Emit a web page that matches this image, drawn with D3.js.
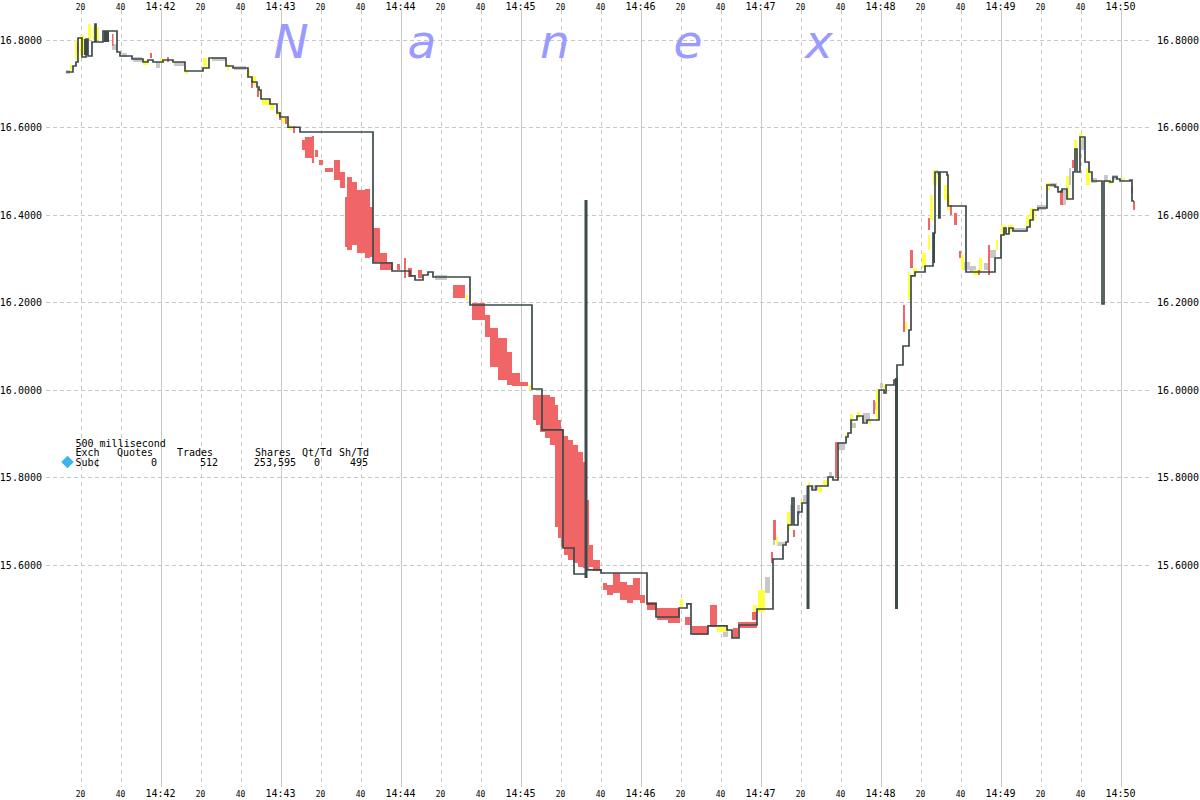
<!DOCTYPE html>
<html><head><meta charset="utf-8">
<script src="https://cdn.jsdelivr.net/npm/d3@7"></script>
<style>
html,body{margin:0;padding:0;background:#fff;}
svg{display:block;}
</style></head><body>
<svg id="chart" width="1200" height="800"></svg>
<script>
// ---- DATA (time = seconds after 14:41:00, price in $) ----
const stepTimes = [12.75,16.25,17.75,18.75,20.75,22.75,23.75,25.75,27.25,27.75,31.25,38.25,39.75,45.75,51.25,53.75,56.25,61.25,66.25,72.25,81.25,84.25,92.75,96.25,103.75,105.75,108.25,109.25,110.25,114.75,118.25,119.75,123.75,129.75,166.25,175.75,184.75,187.25,191.25,193.75,196.25,214.75,245.75,250.75,261.25,266.75,272.75,280.25,303.25,307.75,319.25,323.25,325.25,333.75,343.25,345.75,349.25,358.25,366.25,371.25,372.75,373.75,375.75,376.75,378.75,380.75,383.75,385.75,387.75,393.75,396.25,398.75,402.75,403.75,405.25,408.25,411.25,413.25,419.25,421.75,422.75,426.75,428.25,431.25,434.25,435.25,437.25,442.25,446.25,447.25,449.25,449.75,453.25,453.75,462.75,477.25,480.25,481.75,482.75,484.25,486.25,493.25,494.75,496.25,498.75,503.25,507.25,508.75,510.75,513.25,516.25,517.25,518.25,519.75,522.25,524.25,525.75,530.75,531.75,534.75,536.25,538.25,539.75,544.75,545.75,546.75];
const stepPrices = [16.7257,16.7394,16.7486,16.8034,16.7600,16.8012,16.7623,16.7943,16.8354,16.7943,16.8194,16.7714,16.7623,16.7554,16.7486,16.7531,16.7486,16.7531,16.7486,16.7280,16.7349,16.7577,16.7394,16.7349,16.7143,16.7029,16.6914,16.6846,16.6640,16.6526,16.6320,16.6229,16.5994,16.5886,16.2892,16.2709,16.2595,16.2503,16.2617,16.2686,16.2572,16.1932,16.0012,15.9075,15.6377,15.5783,15.5875,15.5806,15.5098,15.4800,15.5006,15.5098,15.4412,15.4595,15.4503,15.4320,15.4617,15.4983,15.6126,15.6446,15.6514,15.6903,15.7520,15.6903,15.7200,15.7406,15.7794,15.7703,15.7794,15.8000,15.7932,15.8777,15.8914,15.9006,15.9303,15.9394,15.9234,15.9303,15.9989,15.9920,16.0103,16.0217,16.0560,16.0994,16.1360,16.2595,16.2686,16.2823,16.3577,16.4972,16.3920,16.4972,16.4903,16.4194,16.2686,16.3006,16.3532,16.3692,16.3554,16.3692,16.3623,16.3714,16.3874,16.4103,16.4149,16.4674,16.4629,16.4515,16.4583,16.4354,16.4972,16.5497,16.4972,16.5772,16.5200,16.4972,16.4766,16.1954,16.4766,16.4743,16.4857,16.4812,16.4766,16.4789,16.4309,16.4309];

// trade clusters: [startSec, endSec, low, high]
const redTrades = [
[18.25,18.75,16.7692,16.7920],[35.75,36.25,16.7852,16.8126],[54.75,55.75,16.7577,16.7692],[63.25,64.25,16.7486,16.7600],
[105.25,106.25,16.6892,16.7074],[108.25,109.25,16.6686,16.6892],[119.25,120.25,16.6160,16.6343],[122.25,123.25,16.6069,16.6206],[126.25,127.25,16.5863,16.6023],
[130.75,132.25,16.5474,16.5703],[132.25,135.75,16.5292,16.5772],[135.75,136.75,16.5177,16.5795],[137.25,138.75,16.5314,16.5474],[139.25,141.25,16.5132,16.5246],
[142.25,146.25,16.4972,16.5063],[146.75,149.75,16.4789,16.5246],[149.75,152.25,16.4606,16.4972],[152.25,153.25,16.3257,16.4400],[153.25,155.75,16.3189,16.4857],
[155.75,158.25,16.3303,16.4743],[158.25,162.25,16.3120,16.4560],[162.25,164.75,16.3006,16.4583],[164.75,166.25,16.3029,16.4172],[166.25,169.75,16.2892,16.3692],
[169.75,173.25,16.2732,16.3120],[173.25,176.25,16.2732,16.2914],[178.25,179.75,16.2732,16.2869],[181.75,182.75,16.2549,16.3006],[183.75,185.75,16.2572,16.2777],[188.75,190.75,16.2549,16.2732],
[206.25,212.25,16.2092,16.2389],[215.75,222.25,16.1589,16.1977],[222.25,224.75,16.1200,16.1703],[224.75,228.75,16.0515,16.1406],[228.75,233.25,16.0217,16.1177],
[233.25,235.75,16.0103,16.0857],[235.75,239.75,16.0080,16.0377],[239.75,243.75,16.0080,16.0172],
[246.25,247.75,15.9303,15.9875],[247.75,249.75,15.9189,15.9875],[249.75,252.25,15.9029,15.9875],[252.25,254.75,15.8892,15.9875],[254.75,257.25,15.8732,15.9829],
[257.25,258.75,15.6857,15.9646],[258.75,260.25,15.6606,15.9303],[260.25,261.75,15.6400,15.9075],[261.75,263.75,15.6218,15.8938],[263.75,266.25,15.6103,15.8846],
[266.25,268.75,15.6035,15.8732],[268.75,271.25,15.5943,15.8572],[271.25,272.75,15.5921,15.8343],[272.75,274.25,15.5875,15.7475],[274.25,276.25,15.5943,15.6446],[276.25,279.75,15.5852,15.6103],
[281.25,283.25,15.5417,15.5577],[283.25,286.25,15.5303,15.5532],[286.25,289.75,15.5349,15.5806],[289.75,293.25,15.5189,15.5600],[293.25,296.25,15.5120,15.5532],
[296.25,299.75,15.5189,15.5692],[299.75,302.25,15.5120,15.5303],[303.25,308.25,15.4960,15.5143],[308.25,313.75,15.4732,15.5006],[313.75,319.75,15.4663,15.5006],
[322.25,324.75,15.4617,15.4800],[325.75,333.75,15.4389,15.4595],[334.75,338.25,15.4572,15.5075],[346.25,348.75,15.4320,15.4549],[348.75,358.25,15.4549,15.4686],
[355.75,358.25,15.4732,15.4915],[365.25,366.25,15.6035,15.6286],[366.25,367.75,15.6560,15.7017],[376.25,377.25,15.6629,15.6789],[397.25,398.25,15.7977,15.8800],
[416.25,417.25,15.9440,15.9760],[431.25,432.25,16.1315,16.1932],[434.75,436.25,16.2777,16.3189],[443.75,444.75,16.3646,16.3920],[454.75,455.75,16.3989,16.4217],
[456.75,458.25,16.3760,16.4035],[459.25,460.25,16.3006,16.3166],[468.75,469.75,16.2617,16.2732],[473.75,474.75,16.2617,16.3303],[481.25,481.75,16.3532,16.3623],
[509.75,511.25,16.4217,16.4560],[515.75,516.75,16.5063,16.5246],[545.25,546.25,16.4492,16.4629],[546.25,547.25,16.4103,16.4309]
];
const yellowTrades = [
[14.75,15.75,16.7303,16.7417],[17.25,18.75,16.7532,16.7989],[19.75,21.75,16.7646,16.8103],[23.75,25.25,16.7989,16.8354],[26.25,29.25,16.7989,16.8286],
[51.25,53.75,16.7417,16.7532],[59.75,61.25,16.7463,16.7577],[72.25,73.75,16.7212,16.7303],[81.25,83.25,16.7349,16.7577],[93.25,94.25,16.7303,16.7440],
[103.25,104.75,16.7120,16.7303],[105.75,107.75,16.6960,16.7166],[108.25,109.75,16.6732,16.6914],[110.75,114.75,16.6503,16.6640],[114.75,116.75,16.6389,16.6526],
[117.75,119.25,16.6252,16.6389],[120.75,123.25,16.6092,16.6229],[124.25,125.75,16.5932,16.6046],[212.75,213.75,16.2046,16.2160],[244.25,245.75,15.9989,16.0103],
[319.75,321.25,15.5029,15.5212],[338.25,343.25,15.4458,15.4572],[356.25,358.25,15.4915,15.5075],[358.75,362.25,15.4915,15.5417],[367.75,368.75,15.6446,15.6629],
[373.25,374.75,15.6789,15.7200],[379.75,381.25,15.7383,15.7452],[383.75,384.75,15.7749,15.7886],[388.75,390.75,15.7658,15.7772],[391.25,393.25,15.7795,15.7932],
[402.25,403.25,15.8823,15.8983],[404.75,406.25,15.9235,15.9440],[408.25,409.75,15.9349,15.9486],[414.25,415.25,15.9212,15.9303],[417.75,418.75,15.9303,16.0012],
[421.25,422.25,15.9989,16.0103],[432.25,433.25,16.1360,16.1543],[433.75,434.75,16.2046,16.2686],[436.25,438.25,16.2640,16.2777],[440.75,442.75,16.2777,16.3120],
[443.75,444.75,16.3189,16.3532],[444.75,446.25,16.3875,16.4446],[446.25,448.25,16.4674,16.5017],[448.75,450.25,16.4446,16.4903],[451.75,453.25,16.4332,16.4674],
[453.25,454.75,16.4103,16.4446],[460.25,461.75,16.2732,16.3075],[466.25,468.75,16.2617,16.2732],[469.25,470.75,16.2686,16.3006],[477.75,478.75,16.3189,16.3417],
[480.25,482.75,16.3532,16.3760],[483.75,486.25,16.3600,16.3760],[492.75,494.25,16.3737,16.3989],[494.75,497.25,16.3875,16.4149],[502.75,504.75,16.4560,16.4720],
[512.75,514.25,16.4332,16.4880],[516.75,518.25,16.5246,16.5703],[519.25,520.75,16.5703,16.5863],[522.75,524.75,16.4674,16.5063],[528.25,529.75,16.4743,16.4789],
[533.75,535.75,16.4697,16.4766],[540.75,542.25,16.4743,16.4835]
];
const grayTrades = [
[12.75,14.75,16.7212,16.7303],[35.75,38.25,16.7760,16.7897],[40.75,43.25,16.7600,16.7692],[46.25,50.75,16.7486,16.7600],[57.75,59.75,16.7349,16.7486],
[66.75,72.25,16.7394,16.7486],[85.75,92.25,16.7509,16.7600],[96.75,102.75,16.7303,16.7394],[197.25,203.25,16.2503,16.2617],[341.25,343.75,15.4343,15.4617],
[362.25,364.75,15.5349,15.5715],[366.25,367.25,15.6446,15.6721],[368.25,372.25,15.6423,15.6515],[374.75,376.25,15.6903,15.7360],[378.25,379.75,15.7132,15.7360],
[381.25,383.25,15.7429,15.7589],[385.75,388.75,15.7703,15.7818],[394.25,395.75,15.7977,15.8115],[398.25,402.25,15.8617,15.8800],[405.75,407.75,15.9120,15.9235],
[411.25,414.75,15.9257,15.9463],[417.25,418.75,15.9532,15.9715],[419.75,421.25,16.0034,16.0149],[447.25,448.75,16.4903,16.5017],[461.75,464.75,16.2732,16.2914],
[464.75,467.75,16.2686,16.2823],[471.75,473.75,16.2732,16.2892],[474.75,477.75,16.3006,16.3189],[486.75,492.75,16.3600,16.3692],[498.25,502.75,16.4103,16.4217],
[504.75,508.25,16.4629,16.4720],[511.25,512.75,16.4217,16.4560],[514.25,515.25,16.4674,16.5063],[520.25,522.25,16.5474,16.5749],[525.25,528.25,16.4720,16.4835],
[531.75,533.75,16.4743,16.4903],[535.75,538.75,16.4789,16.4903]
];
const darkTrades = [
[21.75,23.75,16.7646,16.8012],[31.75,34.25,16.7943,16.8194],[446.25,447.25,16.2892,16.3577],[448.75,449.75,16.3920,16.4972]
];
// single off-market prints: [sec, low, high]
const outlierPrints = [[272.75,15.5692,16.4332],[383.75,15.4983,15.7794],[428.0,15.4983,16.0263]];

const priceTicks = [15.6, 15.8, 16.0, 16.2, 16.4, 16.6, 16.8];
const watermark = ["N","a","n","e","x"];
const legendTitle = "500 millisecond";
const legendHeaders = ["Exch","Quotes","Trades","Shares","Qt/Td","Sh/Td"];
const legendValues = ["Sub\u00a2","0","512","253,595","0","495"];

// ---- SCALES ----
const base = new Date(2011, 0, 1, 14, 41, 0);
const toDate = s => new Date(base.getTime() + s * 1000);
const x = d3.scaleTime().domain([toDate(0), toDate(540)]).range([40.5, 1120.5]);
const y = d3.scaleLinear().domain([15.6, 16.8]).range([564.5, 39.5]);
const timeTicks = x.ticks(d3.timeSecond.every(20)).filter(d => d > base);

const svg = d3.select("#chart");
const mono = '"DejaVu Sans Mono", "Liberation Mono", monospace';
const gridCol = "#c8c8c8";

// grid
svg.append("g").selectAll("line").data(priceTicks).join("line")
  .attr("x1", 46).attr("x2", 1152)
  .attr("y1", d => Math.round(y(d)) + 0.5).attr("y2", d => Math.round(y(d)) + 0.5)
  .attr("stroke", gridCol).attr("stroke-dasharray", "4,3");
svg.append("g").selectAll("line").data(timeTicks).join("line")
  .attr("x1", d => Math.round(x(d)) + 0.5).attr("x2", d => Math.round(x(d)) + 0.5)
  .attr("y1", 10).attr("y2", 787)
  .attr("stroke", gridCol)
  .attr("stroke-dasharray", d => d.getSeconds() === 0 ? null : "4,4");

// watermark
const wmX = [291, 422, 555, 688, 819];
svg.append("g").selectAll("text").data(watermark).join("text")
  .attr("x", (d, i) => wmX[i]).attr("y", 58)
  .attr("text-anchor", "middle")
  .attr("font-family", '"DejaVu Sans", Verdana, sans-serif')
  .attr("font-style", "italic").attr("font-size", 47)
  .attr("fill", "#9a9aff").text(d => d);

// axes labels
const fmtTime = d => d.getSeconds() === 0 ? d3.timeFormat("%H:%M")(d) : d3.timeFormat("%S")(d);
function timeLabels(yPos) {
  svg.append("g").selectAll("text").data(timeTicks).join("text")
    .attr("x", d => x(d)).attr("y", yPos)
    .attr("text-anchor", "middle").attr("font-family", mono)
    .attr("font-size", d => d.getSeconds() === 0 ? 10 : 8)
    .attr("fill", "#000").text(fmtTime);
}
timeLabels(9.5);
timeLabels(797);
const fmtP = d3.format(".4f");
svg.append("g").selectAll("text").data(priceTicks).join("text")
  .attr("x", 42).attr("y", d => y(d) + 4).attr("text-anchor", "end")
  .attr("font-family", mono).attr("font-size", 10).attr("fill", "#000").text(fmtP);
svg.append("g").selectAll("text").data(priceTicks).join("text")
  .attr("x", 1157).attr("y", d => y(d) + 4).attr("text-anchor", "start")
  .attr("font-family", mono).attr("font-size", 10).attr("fill", "#000").text(fmtP);

// trades
function bars(data, color) {
  svg.append("g").selectAll("rect").data(data).join("rect")
    .attr("x", d => x(toDate(d[0])))
    .attr("width", d => Math.max(1.5, x(toDate(d[1])) - x(toDate(d[0]))))
    .attr("y", d => y(d[3]))
    .attr("height", d => Math.max(1.5, y(d[2]) - y(d[3])))
    .attr("fill", color);
}
bars(grayTrades, "#c8c8c8");
bars(yellowTrades, "#ffff44");
bars(redTrades, "#f06666");
bars(darkTrades, "#3c4a4a");

// step line
const stepData = stepTimes.map((t, i) => [toDate(t), stepPrices[i]]);
svg.append("path").datum(stepData)
  .attr("d", d3.line().x(d => x(d[0])).y(d => y(d[1])).curve(d3.curveStepAfter))
  .attr("fill", "none").attr("stroke", "#3c4a4a").attr("stroke-width", 1.7);

// outliers
svg.append("g").selectAll("line").data(outlierPrints).join("line")
  .attr("x1", d => x(toDate(d[0]))).attr("x2", d => x(toDate(d[0])))
  .attr("y1", d => y(d[2])).attr("y2", d => y(d[1]))
  .attr("stroke", "#3c4a4a").attr("stroke-width", 3);

// legend
const lg = svg.append("g").attr("font-family", mono).attr("font-size", 10).attr("fill", "#000");
lg.append("text").attr("x", 75.5).attr("y", 446.5).text(legendTitle);
const hdrX = [75.5, 117, 177, 255, 302, 339];
lg.selectAll("text.h").data(legendHeaders).join("text").attr("class", "h")
  .attr("x", (d, i) => hdrX[i]).attr("y", 456).text(d => d);
const valX = [75.5, 157, 218, 296, 320, 368];
lg.selectAll("text.v").data(legendValues).join("text").attr("class", "v")
  .attr("x", (d, i) => valX[i]).attr("y", 465.5)
  .attr("text-anchor", (d, i) => i === 0 ? "start" : "end").text(d => d);
svg.append("path")
  .attr("d", d3.symbol().type(d3.symbolDiamond2).size(100)())
  .attr("transform", "translate(67.5,462)").attr("fill", "#3cb4ee");
</script>
</body></html>
